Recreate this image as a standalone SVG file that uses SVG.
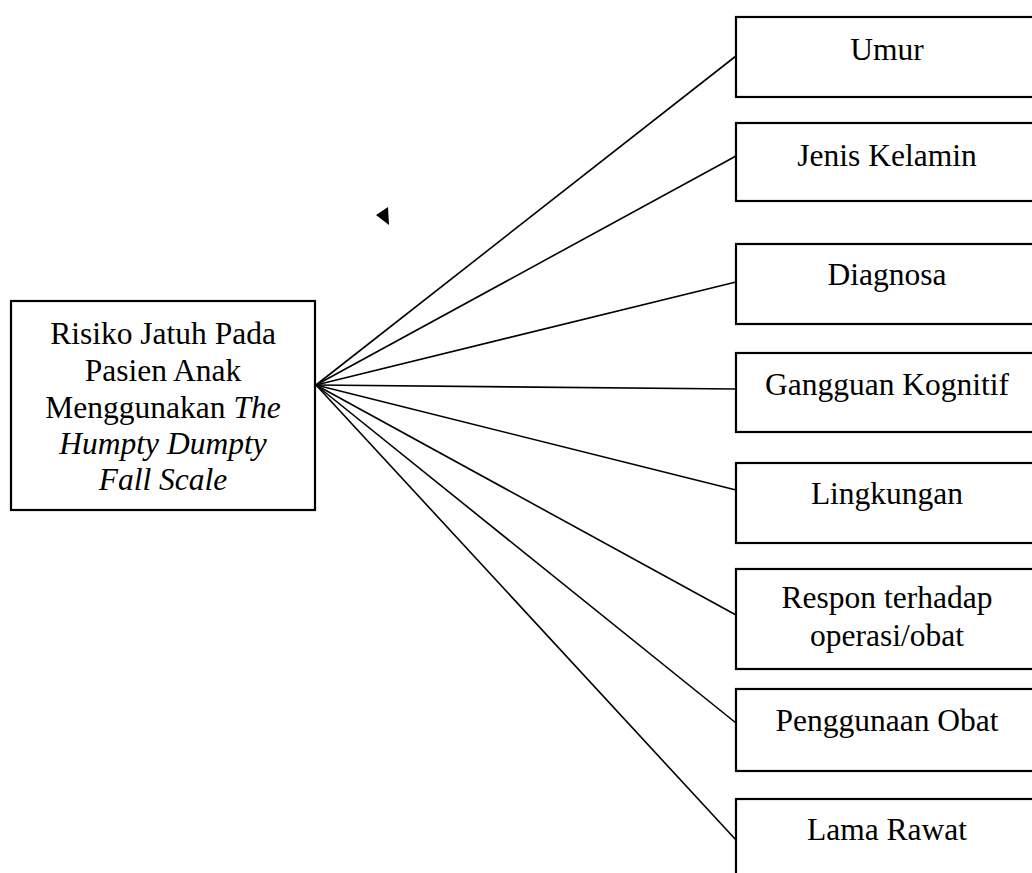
<svg xmlns="http://www.w3.org/2000/svg" width="1032" height="873" viewBox="0 0 1032 873">
<style>
.box{fill:#fff;stroke:#000;stroke-width:2.2}
.t{font-family:"Liberation Serif","Times New Roman",serif;font-size:31.5px;fill:#000;text-anchor:middle}
.i{font-style:italic}
.c{stroke:#000;stroke-width:1.6;fill:none}
</style>
<rect width="1032" height="873" fill="#fff"/>
<g id="connectors">
<line class="c" x1="316" y1="385" x2="736" y2="56"/>
<line class="c" x1="316" y1="385" x2="736" y2="156"/>
<line class="c" x1="316" y1="385" x2="736" y2="282"/>
<line class="c" x1="316" y1="385" x2="736" y2="389"/>
<line class="c" x1="316" y1="385" x2="736" y2="490"/>
<line class="c" x1="316" y1="385" x2="736" y2="615"/>
<line class="c" x1="316" y1="385" x2="736" y2="723"/>
<line class="c" x1="316" y1="385" x2="736" y2="840"/>
<polygon points="376,215 388,207 389,225" fill="#000"/>
</g>
<g id="main">
<rect class="box" x="11" y="301" width="304" height="209"/>
<text class="t" x="163" y="344">Risiko Jatuh Pada</text>
<text class="t" x="163" y="381">Pasien Anak</text>
<text class="t" x="163" y="418">Menggunakan <tspan class="i">The</tspan></text>
<text class="t i" x="163" y="454">Humpty Dumpty</text>
<text class="t i" x="163" y="490">Fall Scale</text>
</g>
<g id="umur">
<rect class="box" x="736" y="17" width="310" height="80"/>
<text class="t" x="887" y="60">Umur</text>
</g>
<g id="jenis-kelamin">
<rect class="box" x="736" y="123" width="310" height="78"/>
<text class="t" x="887" y="166">Jenis Kelamin</text>
</g>
<g id="diagnosa">
<rect class="box" x="736" y="244" width="310" height="80"/>
<text class="t" x="887" y="285">Diagnosa</text>
</g>
<g id="gangguan-kognitif">
<rect class="box" x="736" y="353" width="310" height="79"/>
<text class="t" x="887" y="395">Gangguan Kognitif</text>
</g>
<g id="lingkungan">
<rect class="box" x="736" y="463" width="310" height="80"/>
<text class="t" x="887" y="504">Lingkungan</text>
</g>
<g id="respon">
<rect class="box" x="736" y="569" width="310" height="100"/>
<text class="t" x="887" y="608">Respon terhadap</text>
<text class="t" x="887" y="646">operasi/obat</text>
</g>
<g id="penggunaan-obat">
<rect class="box" x="736" y="689" width="310" height="82"/>
<text class="t" x="887" y="731">Penggunaan Obat</text>
</g>
<g id="lama-rawat">
<rect class="box" x="736" y="799" width="310" height="100"/>
<text class="t" x="887" y="840">Lama Rawat</text>
</g>
</svg>
